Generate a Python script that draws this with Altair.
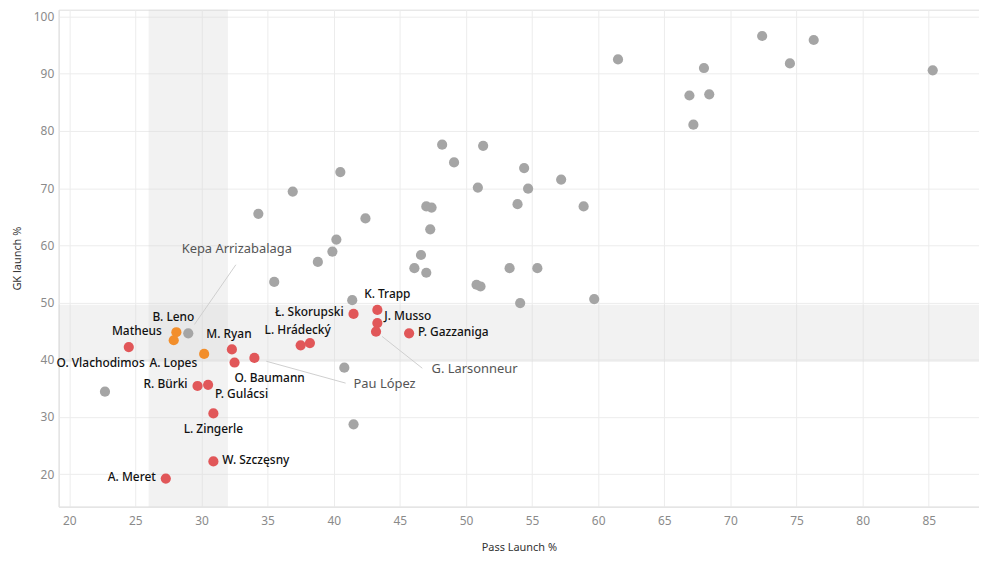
import altair as alt
import pandas as pd

FONT = "Noto Sans"

# ---- Named goalkeepers -------------------------------------------------
player = ["O. Vlachodimos", "M. Ryan", "O. Baumann", "Pau López", "R. Bürki",
          "P. Gulácsi", "L. Zingerle", "W. Szczęsny", "A. Meret", "L. Hrádecký",
          "", "Ł. Skorupski", "K. Trapp", "J. Musso", "G. Larsonneur",
          "P. Gazzaniga", "B. Leno", "Matheus", "A. Lopes", "Kepa Arrizabalaga"]
pass_launch = [24.5, 32.3, 32.5, 34.0, 29.7, 30.5, 30.9, 30.9, 27.3, 37.5,
               38.2, 41.5, 43.3, 43.3, 43.2, 45.7, 28.1, 27.9, 30.2, 29.0]
gk_launch = [42.2, 41.8, 39.5, 40.3, 35.4, 35.6, 30.6, 22.2, 19.2, 42.5,
             42.9, 48.0, 48.7, 46.4, 44.9, 44.6, 44.8, 43.4, 41.0, 44.6]
group = ["red"] * 16 + ["orange"] * 3 + ["grey"]
label_style = ["below-left", "above", "below-right", "", "left",
               "below-right-near", "below", "right", "left", "above",
               "", "left", "above-right", "right-up", "",
               "right", "above", "left-up", "below-left-near", ""]

# ---- Other goalkeepers (grey) -------------------------------------------
other_pass = [22.7, 34.3, 36.9, 40.5, 42.4, 40.2, 39.9, 38.8, 35.5, 41.4,
              40.8, 41.5, 48.2, 51.3, 49.1, 54.4, 57.2, 50.9, 54.7, 47.0,
              47.4, 53.9, 58.9, 47.3, 46.6, 46.1, 47.0, 53.3, 55.4, 50.8,
              51.1, 54.1, 59.7, 61.5, 68.0, 66.9, 68.4, 67.2, 72.4, 74.5,
              76.3, 85.3]
other_gk = [34.4, 65.5, 69.4, 72.8, 64.7, 61.0, 58.9, 57.1, 53.6, 50.4,
            38.6, 28.7, 77.6, 77.4, 74.5, 73.5, 71.5, 70.1, 69.9, 66.8,
            66.6, 67.2, 66.8, 62.8, 58.3, 56.0, 55.2, 56.0, 56.0, 53.1,
            52.8, 49.9, 50.6, 92.5, 91.0, 86.2, 86.4, 81.1, 96.6, 91.8,
            95.9, 90.6]

# ---- Annotations ----------------------------------------------------------
ann_player = ["Kepa Arrizabalaga", "Pau López", "G. Larsonneur"]
ann_line_x = [32.6, 40.9, 46.7]
ann_line_y = [56.6, 35.9, 38.5]
ann_text_x = [28.5, 41.5, 47.4]
ann_text_y = [59.3, 35.8, 38.3]

# ---- Reference bands -----------------------------------------------------
band_pass = [26.0, 32.0]
band_gk = [39.6, 49.6]

x_ticks = [20, 25, 30, 35, 40, 45, 50, 55, 60, 65, 70, 75, 80, 85]
y_ticks = [20, 30, 40, 50, 60, 70, 80, 90, 100]

W, H = 926, 500
xs = alt.Scale(domain=[19.2, 88.8], nice=False, zero=False)
ys = alt.Scale(domain=[14.3, 101.2], nice=False, zero=False)

x_axis = alt.Axis(values=x_ticks, title="Pass Launch %", grid=True,
                  gridColor="#ececec", domainColor="#e3e3e3", ticks=False,
                  labelColor="#8a8a8a", labelFontSize=12, labelPadding=9,
                  labelFont=FONT, titleFont=FONT, titleFontSize=11,
                  titleColor="#333333", titleFontWeight="normal",
                  titlePadding=15)
y_axis = alt.Axis(values=y_ticks, title="GK launch %", grid=True,
                  gridColor="#ececec", domainColor="#e3e3e3", ticks=False,
                  labelColor="#8a8a8a", labelFontSize=12, labelPadding=5,
                  labelFont=FONT, titleFont=FONT, titleFontSize=11,
                  titleColor="#333333", titleFontWeight="normal",
                  titlePadding=11)


def X(f):
    return alt.X(f, type="quantitative", scale=xs, axis=x_axis)


def Y(f):
    return alt.Y(f, type="quantitative", scale=ys, axis=y_axis)


keepers = pd.DataFrame({"player": player, "pass": pass_launch,
                        "gk": gk_launch, "group": group,
                        "style": label_style})
others = pd.DataFrame({"pass": other_pass, "gk": other_gk})
ann = pd.DataFrame({"player": ann_player, "lx": ann_line_x, "ly": ann_line_y,
                    "tx": ann_text_x, "ty": ann_text_y})
ann = ann.merge(keepers[["player", "pass", "gk"]], on="player")

vband = alt.Chart(pd.DataFrame({"a": [band_pass[0]], "b": [band_pass[1]]})).mark_rect(
    color="#d8d8d8", opacity=0.32).encode(x=X("a"), x2="b")
hband = alt.Chart(pd.DataFrame({"a": [band_gk[0]], "b": [band_gk[1]]})).mark_rect(
    color="#d8d8d8", opacity=0.32).encode(y=Y("a"), y2="b")

ann_lines = alt.Chart(ann).transform_calculate(
    sx="datum.pass + 0.13*(datum.lx - datum.pass)",
    sy="datum.gk + 0.13*(datum.ly - datum.gk)",
).mark_rule(color="#cfcfcf", strokeWidth=1).encode(
    x=X("sx"), y=Y("sy"), x2="lx:Q", y2="ly:Q")

other_pts = alt.Chart(others).mark_circle(size=105, opacity=1, color="#a5a5a5").encode(
    x=X("pass"), y=Y("gk"))

keeper_pts = alt.Chart(keepers).mark_circle(size=105, opacity=1).encode(
    x=X("pass"), y=Y("gk"),
    color=alt.Color("group:N", scale=alt.Scale(domain=["red", "orange", "grey"],
                                               range=["#e15759", "#f28e2b", "#a5a5a5"]),
                    legend=None))

styles = {
    "left": ("right", -10, -2),
    "left-up": ("right", -12, -9),
    "right": ("left", 9, -1),
    "right-up": ("left", 7, -7),
    "above": ("center", -3, -15),
    "above-right": ("center", 10, -16),
    "below": ("center", 0, 16),
    "below-right": ("left", 0, 16),
    "below-right-near": ("left", 7, 9),
    "below-left": ("right", 16, 16),
    "below-left-near": ("right", -7, 9),
}

label_layers = []
for name, (al, dx, dy) in styles.items():
    label_layers.append(
        alt.Chart(keepers).transform_filter(alt.datum.style == name).mark_text(
            align=al, baseline="middle", dx=dx, dy=dy, font=FONT, fontSize=12,
            fontWeight=500, color="#111111").encode(
                x=X("pass"), y=Y("gk"), text="player:N"))

ann_text = alt.Chart(ann).mark_text(align="left", baseline="middle", font=FONT,
                                    fontSize=13, color="#555555").encode(
    x=X("tx"), y=Y("ty"), text="player:N")

chart = alt.layer(vband, hband, ann_lines, other_pts, keeper_pts, *label_layers,
                  ann_text).properties(
    width=W, height=H,
    autosize=alt.AutoSizeParams(type="none"),
    padding={"left": 51, "top": 0, "right": 0, "bottom": 55},
).configure_view(stroke=None).configure(background="white")

chart.save("out.html", embed_options={"renderer": "svg", "actions": False})
